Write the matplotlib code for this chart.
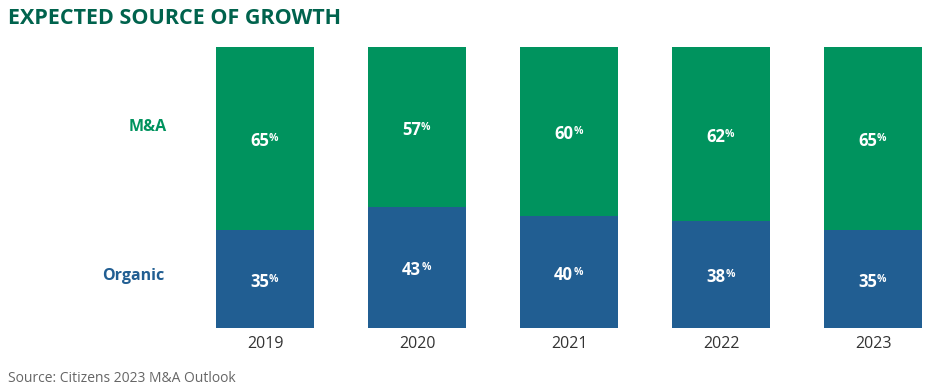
import matplotlib.pyplot as plt
import numpy as np

plt.rcParams['font.family'] = ['Open Sans', 'DejaVu Sans']

years = ['2019', '2020', '2021', '2022', '2023']
organic = [35, 43, 40, 38, 35]
mna = [65, 57, 60, 62, 65]

green = '#00935E'
blue = '#215E92'

fig = plt.figure(figsize=(9.36, 3.89), dpi=100)
ax = fig.add_axes([0, 61 / 389, 1, 281 / 389])

x = np.arange(len(years))
width = 0.645
ax.bar(x, organic, width, color=blue)
ax.bar(x, mna, width, bottom=organic, color=green)


def pct_label(xpos, ypos, value):
    t = ax.text(xpos - 0.035, ypos - 1.0, str(value), ha='center', va='center',
                color='white', fontsize=12, fontweight='bold')
    ax.annotate('%', xy=(1.0, 0.95), xycoords=t, ha='left', va='top',
                color='white', fontsize=7.5, fontweight='bold')


for i in range(len(years)):
    pct_label(x[i], organic[i] / 2, organic[i])
    pct_label(x[i], organic[i] + mna[i] / 2, mna[i])

ax.text(-0.77, 71.5, 'M&A', ha='center', va='center', color=green,
        fontsize=11.5, fontweight='bold')
ax.text(-0.87, 18.5, 'Organic', ha='center', va='center', color=blue,
        fontsize=11.5, fontweight='bold')

ax.set_xlim(-265 / 152, (936 - 265) / 152)
ax.set_ylim(0, 100)
ax.set_xticks(x)
ax.set_xticklabels(years, fontsize=11.5, color='#333333')
ax.tick_params(axis='x', length=0, pad=6)
ax.set_yticks([])
for s in ax.spines.values():
    s.set_visible(False)

fig.text(8 / 936, 1 - 18 / 389, 'EXPECTED SOURCE OF GROWTH', ha='left', va='center',
         color='#00634D', fontsize=15.5, fontweight='bold')
fig.text(8 / 936, 1 - 378 / 389, 'Source: Citizens 2023 M&A Outlook', ha='left', va='center',
         color='#666666', fontsize=10)

fig.savefig('out.png', dpi=100)
